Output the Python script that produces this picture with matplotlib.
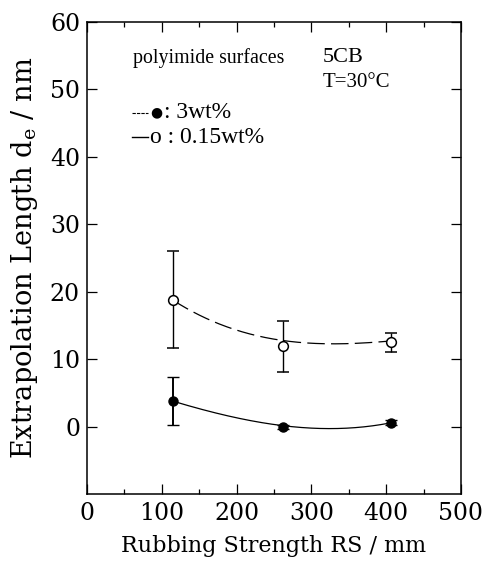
import matplotlib.pyplot as plt
import numpy as np
from matplotlib.ticker import MultipleLocator

# rubbing strength (mm)
rs = [115, 262, 407]
# 0.15wt% (open circles, dashed curve)
de_low = [18.8, 11.9, 12.5]
err_low = [7.2, 3.8, 1.4]
# 3wt% (filled circles, solid curve)
de_high = [3.8, 0.0, 0.6]
err_high = [3.5, 0.3, 0.3]

# guide curves
curve_x = [115, 142, 187, 231, 276, 320, 374, 407]
curve_low = [18.6, 17.1, 15.1, 13.0, 12.5, 12.4, 12.55, 12.6]
curve_high = [3.8, 2.8, 1.7, 0.65, -0.1, -0.3, 0.05, 0.55]

plt.rcParams['font.family'] = ['DejaVu Serif']
plt.rcParams['mathtext.fontset'] = 'dejavuserif'
txt_font = ['Liberation Serif', 'DejaVu Serif']

fig = plt.figure(figsize=(4.82, 5.62), dpi=100)
ax = fig.add_axes([0.1805, 0.121, 0.7759, 0.84])

# smooth the guide curves with a cubic fit
xs = np.linspace(curve_x[0], curve_x[-1], 200)
p_low = np.polyfit(curve_x, curve_low, 3)
p_high = np.polyfit(curve_x, curve_high, 3)
ax.plot(xs, np.polyval(p_low, xs), color='k', lw=0.9, dashes=(14, 5))
ax.plot(xs, np.polyval(p_high, xs), color='k', lw=0.9)

ax.errorbar(rs, de_low, yerr=err_low, fmt='o', ms=7, mfc='white', mec='k',
            mew=1.1, ecolor='k', elinewidth=1.0, capsize=4, capthick=1.0)
ax.errorbar(rs, de_high, yerr=err_high, fmt='o', ms=6.5, mfc='k', mec='k',
            ecolor='k', elinewidth=1.4, capsize=4, capthick=1.0)

ax.set_xlim(0, 500)
ax.set_ylim(-10, 60)
ax.xaxis.set_major_locator(MultipleLocator(100))
ax.xaxis.set_minor_locator(MultipleLocator(50))
ax.set_yticks([0, 10, 20, 30, 40, 50, 60])
ax.tick_params(which='both', direction='in', top=True, right=True,
               labelsize=17)
ax.tick_params(axis='x', pad=6)
ax.tick_params(axis='y', pad=5)
ax.tick_params(which='major', length=7, width=0.9)
ax.tick_params(which='minor', length=3.5, width=0.9)
for s in ax.spines.values():
    s.set_linewidth(1.1)

ax.set_xlabel('Rubbing Strength RS / mm', fontsize=16, labelpad=7)
ax.set_ylabel('Extrapolation Length $\\mathrm{d}_\\mathrm{e}$ / nm',
              fontsize=19.5, labelpad=7)

# annotations
ax.text(0.123, 0.924, 'polyimide surfaces', transform=ax.transAxes,
        fontsize=14.3, va='center', family=txt_font)
ax.text(0.631, 0.924, '5CB', transform=ax.transAxes, fontsize=16,
        va='center', family=txt_font)
ax.text(0.631, 0.871, 'T=30°C', transform=ax.transAxes, fontsize=15,
        va='center', family=txt_font)

ax.plot([0.121, 0.163], [0.808, 0.808], transform=ax.transAxes, color='k',
        lw=0.8, dashes=(3, 1))
ax.text(0.168, 0.808, '\u25CF', transform=ax.transAxes, fontsize=10,
        va='center', family=['DejaVu Sans'])
ax.text(0.205, 0.808, ': 3wt%', transform=ax.transAxes, fontsize=17,
        va='center', family=txt_font)
ax.plot([0.121, 0.163], [0.756, 0.756], transform=ax.transAxes, color='k',
        lw=1.0)
ax.text(0.168, 0.756, 'o : 0.15wt%', transform=ax.transAxes, fontsize=17,
        va='center', family=txt_font)

fig.savefig('out.png', dpi=100)
